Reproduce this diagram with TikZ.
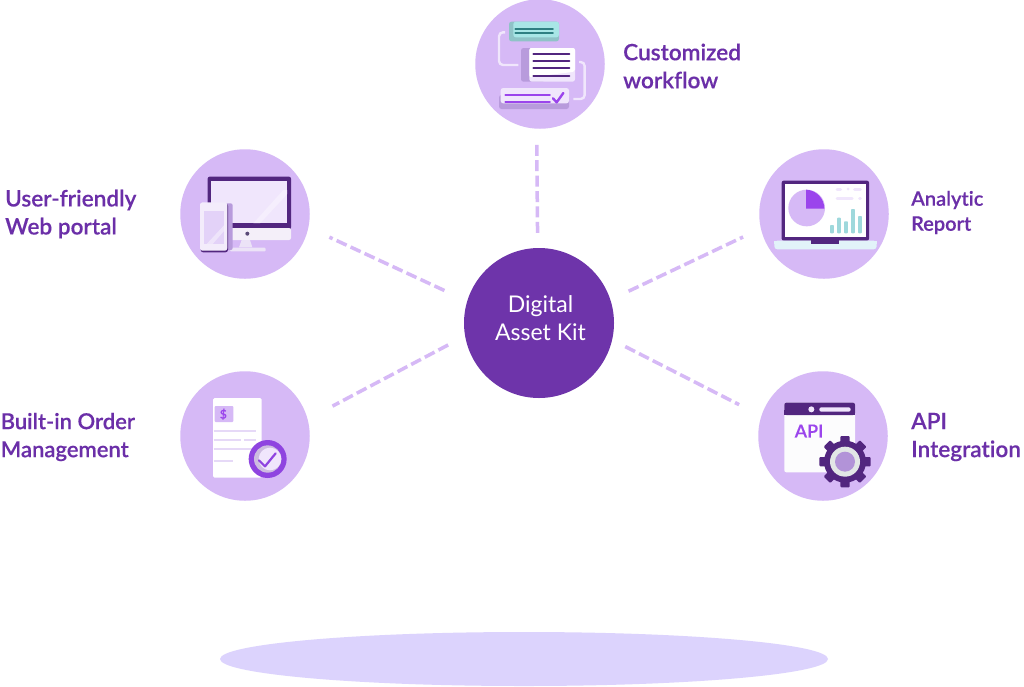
\documentclass[tikz,border=0pt]{standalone}
\usepackage{fontspec}
\setmainfont{Lato}[Ligatures=CommonOff]
\newfontfamily\labfont{Lato Semibold}[Ligatures=CommonOff,FakeBold=0.25]
\definecolor{disc}{HTML}{D6B9F6}
\definecolor{hubc}{HTML}{6E34AA}
\definecolor{dark}{HTML}{52267F}
\definecolor{vio}{HTML}{9B45EC}
\definecolor{pale}{HTML}{F0E6FC}
\definecolor{mutedp}{HTML}{B89BDC}
\definecolor{lab}{HTML}{6B2FA8}
\definecolor{tealF}{HTML}{A8E6E6}
\definecolor{tealB}{HTML}{8FC3C7}
\definecolor{tealD}{HTML}{2E7F82}
\definecolor{tealL}{HTML}{9ED8DC}
\tikzset{
  spoke/.style={circle,fill=disc,inner sep=0pt,minimum size=129.5pt},
  dashline/.style={draw=disc,line width=3.5pt,dash pattern=on 11pt off 4.4pt},
  lbl/.style={anchor=west,align=left,inner sep=0pt,text=lab,font=\labfont\fontsize{22.6}{28}\selectfont},
  lblsm/.style={anchor=west,align=left,inner sep=0pt,text=lab,font=\labfont\fontsize{20}{25}\selectfont},
  rule/.style={line width=1.9pt,line cap=round},
  icon/.style={x=0.33333pt,y=-0.33333pt}
}
\begin{document}
\begin{tikzpicture}[x=1pt,y=-1pt]
\useasboundingbox (0,0) rectangle (1024,686);
\fill[white] (0,0) rectangle (1024,686);
\fill[color={rgb,255:red,220;green,211;blue,253}] (524,659) ellipse [x radius=304,y radius=27];
\node[spoke] (top) at (540,64) {};
\node[spoke] (ul) at (245,214) {};
\node[spoke] (ur) at (824,214) {};
\node[spoke] (ll) at (245,436) {};
\node[spoke] (lr) at (823,436) {};
\node[circle,fill=hubc,inner sep=0pt,minimum size=150pt] (hub) at (539,323) {};
\node[text=white,align=center,inner sep=0pt,font=\fontsize{23}{28}\selectfont] (hubtext) at (540.5,318) {Digital\\Asset Kit};
\draw[dashline,shorten >=16pt,shorten <=15pt] (hub.91.5) -- (top.267.4);
\draw[dashline,shorten >=23pt,shorten <=25pt] (hub.163) -- (ul.348);
\draw[dashline,shorten >=19.5pt,shorten <=20pt] (hub.18) -- (ur.193.7);
\draw[dashline,shorten >=28pt,shorten <=19pt] (hub.190.7) -- (ll.15);
\draw[dashline,shorten >=24.8pt,shorten <=14.6pt] (hub.347.4) -- (lr.162.5);
\node[lbl] (t1) at (623,66) {Customized\\workflow};
\node[lbl] (t2) at (5,214) {User-friendly\\Web portal};
\node[lblsm] (t3) at (911,212.5) {Analytic\\Report};
\node[lbl,font=\labfont\fontsize{22}{28}\selectfont] (t4) at (0.5,437) {Built-in Order\\Management};
\node[lbl] (t5) at (911,437) {API\\Integration};
% workflow icon
\begin{scope}[shift={(465,0)},icon]
\draw[pale,line width=2.4pt,rounded corners=4pt] (120,97) -- (102,97) -- (102,195) -- (160,195);
\draw[pale,line width=2.4pt,rounded corners=4pt] (342,186) -- (359,186) -- (359,297) -- (325,297);
\fill[tealB,rounded corners=2.5pt] (132,65) rectangle (282,124);
\fill[tealF,rounded corners=2.5pt] (145,65) rectangle (282,112);
\draw[tealD,rule] (151,86) -- (264,86);
\draw[tealD,rule] (151,100) -- (264,100);
\fill[mutedp,rounded corners=2.5pt] (168,144) rectangle (240,245);
\fill[pale,rounded corners=2.5pt] (193,144) rectangle (330,245);
\fill[white,rounded corners=2pt] (193,144) -- (330,144) -- (330,215) -- (193,232) -- cycle;
\foreach \yy in {162,184,205,227} \draw[dark,rule] (205,\yy) -- (313,\yy);
\fill[mutedp,rounded corners=2.5pt] (102,285) rectangle (312,327);
\fill[pale,rounded corners=2.5pt] (107,264) rectangle (312,310);
\draw[vio,rule] (121,285) -- (255,285);
\draw[vio,rule] (121,305) -- (255,305);
\draw[vio,line width=2.4pt,line cap=round,line join=round] (264,295) -- (275,307) -- (295,279);
\end{scope}
% monitor icon
\begin{scope}[shift={(170,140)},icon]
\fill[dark,rounded corners=2pt] (113,110) rectangle (363,268);
\fill[pale] (124,122) rectangle (352,250);
\fill[white,opacity=.35] (250,250) -- (340,150) -- (352,150) -- (352,162) -- (270,250) -- cycle;
\fill[color={rgb,255:red,244;green,239;blue,249},rounded corners=2pt] (175,264) rectangle (363,300);
\fill[color={rgb,255:red,236;green,227;blue,247}] (215,300) -- (240,300) -- (247,322) -- (207,322) -- cycle;
\fill[color={rgb,255:red,236;green,227;blue,247},rounded corners=1pt] (180,323) rectangle (287,334);
\fill[color={rgb,255:red,90;green,74;blue,119}] (232,281) circle [radius=6];
\fill[mutedp,rounded corners=2pt] (110,190) rectangle (188,330);
\fill[dark,rounded corners=2.5pt] (92,190) rectangle (174,337);
\fill[color={rgb,255:red,243;green,236;blue,251},rounded corners=2.5pt] (90,187) rectangle (172,332);
\fill[color={rgb,255:red,227;green,210;blue,248}] (101,212) rectangle (163,312);
\fill[white,opacity=.4] (110,312) -- (163,255) -- (163,272) -- (128,312) -- cycle;
\end{scope}
% laptop icon
\begin{scope}[shift={(750,140)},icon]
\fill[dark,rounded corners=2pt] (95,122) rectangle (357,302);
\fill[white] (105,132) rectangle (347,292);
\fill[color={rgb,255:red,226;green,243;blue,249},rounded corners=3pt] (73,302) rectangle (380,328);
\fill[color={rgb,255:red,226;green,243;blue,249}] (73,302) rectangle (380,312);
\fill[dark] (183,300) rectangle (268,313);
\fill[disc] (170,204) circle [radius=55];
\fill[vio] (168,149) arc [start angle=-88,end angle=0,radius=57] -- (168,206) -- cycle;
\foreach \xx/\yy in {246/255,267/233,288/244,309/207,330/228}
  \fill[tealL,rounded corners=0.7pt] (\xx-5.5,\yy) rectangle (\xx+5.5,280);
\foreach \aa/\bb/\yy in {257/276/147,290/298/147,310/335/147,257/310/174,325/335/174}
  \draw[pale,line width=3pt,line cap=round] (\aa+4,\yy) -- (\bb-4,\yy);
\end{scope}
% order icon
\begin{scope}[shift={(170,360)},icon]
\fill[white,rounded corners=1.5pt] (129,114) rectangle (275,353);
\fill[disc,rounded corners=1pt] (134,138) rectangle (190,186);
\node[text=vio,inner sep=0pt,font=\labfont\fontsize{12}{12}\selectfont] (dollar) at (160,163) {\$};
\foreach \aa/\bb/\yy in {131/257/212,131/213/240,222/257/240,131/257/268,131/190/303}
  \draw[color={rgb,255:red,230;green,217;blue,247},line width=2.2pt] (\aa,\yy) -- (\bb,\yy);
\fill[color={rgb,255:red,143;green,68;blue,224}] (293,297) circle [radius=57];
\fill[color={rgb,255:red,205;green,188;blue,224}] (293,297) circle [radius=41];
\fill[pale] (300,297) circle [radius=34];
\draw[color={rgb,255:red,143;green,68;blue,224},line width=2.2pt,line cap=round,line join=round] (267,301) -- (285,319) -- (317,280);
\end{scope}
% API icon
\begin{scope}[shift={(750,360)},icon]
\fill[color={rgb,255:red,252;green,252;blue,253},rounded corners=2pt] (103,128) rectangle (315,337);
\fill[dark,rounded corners=2pt] (103,128) rectangle (315,165);
\fill[dark] (103,150) rectangle (315,165);
\fill[pale] (184,148) circle [radius=9];
\fill[pale,rounded corners=2pt] (208,142) rectangle (302,155);
\node[text=vio,inner sep=0pt,font=\labfont\fontsize{18}{18}\selectfont] (apitext) at (177,213) {API};
\foreach \aa in {0,45,...,315}
  \fill[dark,rotate around={\aa:(285,305)},rounded corners=1pt] (271,228) rectangle (299,260);
\fill[dark] (285,305) circle [radius=63];
\fill[color={rgb,255:red,226;green,230;blue,230}] (285,305) circle [radius=45];
\fill[color={rgb,255:red,178;green,147;blue,216}] (285,305) circle [radius=30];
\end{scope}
\end{tikzpicture}
\end{document}
